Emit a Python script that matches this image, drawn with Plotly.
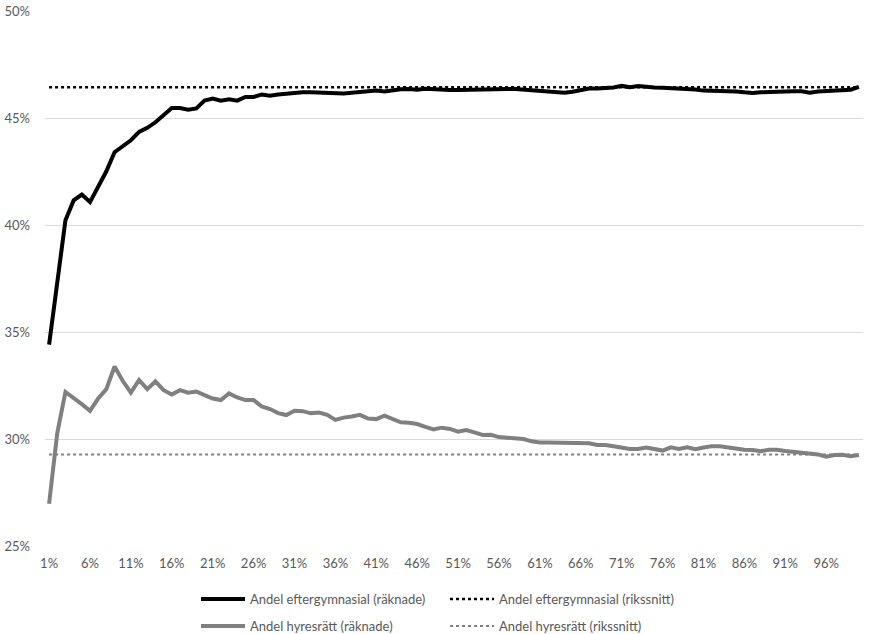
import plotly.graph_objects as go

percentiles = [f"{i}%" for i in range(1, 101)]
x_pos = list(range(1, 101))

eftergymnasial = [
    34.41, 37.42, 40.22, 41.15, 41.42, 41.07, 41.81, 42.51, 43.40, 43.68,
    43.96, 44.35, 44.54, 44.80, 45.11, 45.47, 45.47, 45.39, 45.45, 45.82,
    45.91, 45.81, 45.87, 45.81, 45.98, 45.98, 46.10, 46.04, 46.10, 46.14,
    46.19, 46.20, 46.20, 46.19, 46.16, 46.15, 46.15, 46.18, 46.20, 46.25,
    46.28, 46.24, 46.30, 46.34, 46.36, 46.32, 46.37, 46.34, 46.32, 46.31,
    46.31, 46.31, 46.31, 46.31, 46.32, 46.33, 46.35, 46.36, 46.33, 46.30,
    46.27, 46.25, 46.20, 46.18, 46.23, 46.32, 46.38, 46.38, 46.40, 46.43,
    46.50, 46.44, 46.50, 46.44, 46.42, 46.41, 46.40, 46.36, 46.34, 46.33,
    46.28, 46.27, 46.27, 46.27, 46.24, 46.20, 46.17, 46.20, 46.22, 46.24,
    46.25, 46.25, 46.25, 46.18, 46.24, 46.26, 46.26, 46.27, 46.32, 46.45,
]

hyresratt = [
    26.97, 30.28, 32.20, 31.94, 31.63, 31.32, 31.89, 32.33, 33.39, 32.72,
    32.17, 32.76, 32.33, 32.69, 32.28, 32.08, 32.28, 32.16, 32.22, 32.05,
    31.89, 31.82, 32.13, 31.94, 31.82, 31.82, 31.52, 31.40, 31.21, 31.12,
    31.32, 31.30, 31.20, 31.24, 31.13, 30.89, 31.00, 31.05, 31.13, 30.96,
    30.93, 31.09, 30.93, 30.78, 30.76, 30.70, 30.57, 30.45, 30.53, 30.47,
    30.34, 30.42, 30.31, 30.19, 30.20, 30.09, 30.06, 30.02, 30.00, 29.89,
    29.84, 29.84, 29.84, 29.81, 29.80, 29.80, 29.80, 29.72, 29.72, 29.66,
    29.60, 29.53, 29.53, 29.60, 29.53, 29.46, 29.61, 29.53, 29.61, 29.52,
    29.60, 29.66, 29.66, 29.60, 29.53, 29.50, 29.49, 29.43, 29.50, 29.50,
    29.44, 29.40, 29.35, 29.30, 29.28, 29.17, 29.25, 29.26, 29.19, 29.25,
]

riks_eftergymnasial = 46.44
riks_hyresratt = 29.27

y_ticks = [25, 30, 35, 40, 45, 50]
y_tick_labels = ["25%", "30%", "35%", "40%", "45%", "50%"]
x_tick_idx = list(range(1, 101, 5))

FONT = "Lato"
TXT = "#595959"

fig = go.Figure()
fig.add_trace(go.Scatter(
    x=x_pos, y=eftergymnasial, mode="lines",
    name="Andel eftergymnasial (räknade)",
    line=dict(color="#000000", width=4), legend="legend"))
fig.add_trace(go.Scatter(
    x=x_pos, y=[riks_eftergymnasial] * len(x_pos), mode="lines",
    name="Andel eftergymnasial (rikssnitt)",
    line=dict(color="#000000", width=2.4, dash="dot"), legend="legend"))
fig.add_trace(go.Scatter(
    x=x_pos, y=hyresratt, mode="lines",
    name="Andel hyresrätt (räknade)",
    line=dict(color="#808080", width=4), legend="legend2"))
fig.add_trace(go.Scatter(
    x=x_pos, y=[riks_hyresratt] * len(x_pos), mode="lines",
    name="Andel hyresrätt (rikssnitt)",
    line=dict(color="#808080", width=2, dash="dot"), legend="legend2"))

legend_common = dict(
    orientation="h", xref="container", yref="container",
    xanchor="left", yanchor="middle",
    entrywidth=190, entrywidthmode="pixels",
    font=dict(family=FONT, size=13, color=TXT),
    bgcolor="rgba(0,0,0,0)", itemwidth=44,
)

fig.update_layout(
    width=873, height=634,
    margin=dict(l=45, r=10, t=11, b=88, autoexpand=False),
    plot_bgcolor="white", paper_bgcolor="white",
    font=dict(family=FONT, size=13, color=TXT),
    showlegend=True,
    legend=dict(x=196 / 873, y=1 - 599 / 634, **legend_common),
    legend2=dict(x=196 / 873, y=1 - 626 / 634, **legend_common),
    xaxis=dict(
        range=[0.5, 100.5],
        tickmode="array",
        tickvals=x_tick_idx,
        ticktext=[percentiles[i - 1] for i in x_tick_idx],
        showgrid=False, zeroline=False, showline=False, automargin=False,
        ticks="", tickfont=dict(family=FONT, size=13, color=TXT),
        ticklabelstandoff=8,
    ),
    yaxis=dict(
        range=[25, 50],
        tickmode="array",
        tickvals=y_ticks,
        ticktext=y_tick_labels,
        showgrid=True, gridcolor="#d9d9d9", gridwidth=1, automargin=False,
        zeroline=False, showline=False, ticks="",
        tickfont=dict(family=FONT, size=13, color=TXT),
        ticklabelstandoff=14,
    ),
)

fig.write_html(
    "out.html",
    config={"displayModeBar": False},
    post_script="document.body.style.margin='0';",
)
